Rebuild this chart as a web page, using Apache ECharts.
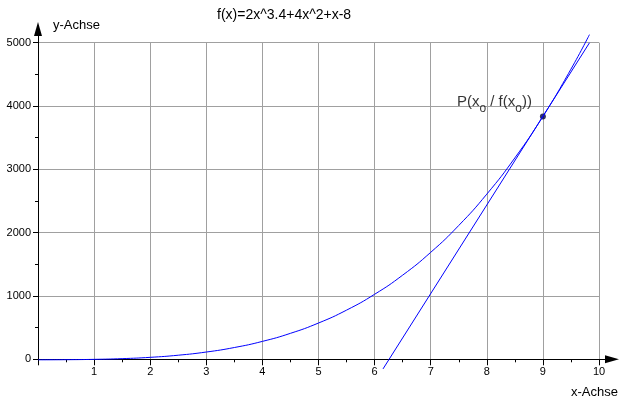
<!DOCTYPE html>
<html>
<head>
<meta charset="utf-8">
<script src="https://cdn.jsdelivr.net/npm/echarts@6/dist/echarts.min.js"></script>
<style>
  html, body { margin: 0; padding: 0; background: #fff; }
  #main { width: 623px; height: 398px; }
</style>
</head>
<body>
<div id="main"></div>
<script>
// tick labels
var xTicks = [0, 1, 2, 3, 4, 5, 6, 7, 8, 9, 10];
var yTicks = [0, 1000, 2000, 3000, 4000, 5000];

// f(x) = 2x^3.4 + 4x^2 + x - 8
var curveX = [0, 0.5, 1, 1.5, 2, 2.5, 3, 3.5, 4, 4.5, 5, 5.5, 6, 6.5, 7, 7.5, 8, 8.5, 9, 9.5, 9.83];
var curveY = [-8, -6.3, -1, 10.4, 31.1, 64.6, 114.8, 186, 282.9, 410.1, 572.9, 776.6, 1026.6, 1328.8, 1689.1, 2113.5, 2608.5, 3180.5, 3836.2, 4582.3, 5127.6];

// tangent line at x0 = 9
var tangentX = [6.15, 9.83];
var tangentY = [-152, 4998];

// point P(x0 / f(x0))
var pointX = [9];
var pointY = [3836.2];

window.onload = function () {
    var chart = echarts.init(document.getElementById("main"));

    var curve = curveX.map(function (x, i) { return [x, curveY[i]]; });
    var tangent = tangentX.map(function (x, i) { return [x, tangentY[i]]; });
    var point = pointX.map(function (x, i) { return [x, pointY[i]]; });

    var font = "'Liberation Sans', Arial, sans-serif";

    var option = {
        animation: false,
        backgroundColor: "#fff",
        textStyle: { fontFamily: font },
        title: [
            { text: "f(x)=2x^3.4+4x^2+x-8", left: 212, top: 3,
              textStyle: { fontSize: 14, fontWeight: "normal", color: "#000", fontFamily: font } },
            { text: "y-Achse", left: 48, top: 14,
              textStyle: { fontSize: 13, fontWeight: "normal", color: "#000", fontFamily: font } },
            { text: "x-Achse", left: 566, top: 381,
              textStyle: { fontSize: 13, fontWeight: "normal", color: "#000", fontFamily: font } }
        ],
        grid: [
            { left: 38, right: 24, top: 42.7, bottom: 38.7 },   // plot area
            { left: 38, right: 11, top: 29, bottom: 38.7 }       // axis lines with arrows
        ],
        xAxis: [
            {
                type: "value", gridIndex: 0,
                min: xTicks[0], max: xTicks[xTicks.length - 1], interval: 1,
                axisLine: { show: false },
                axisTick: { show: true, length: 6, lineStyle: { color: "#000" } },
                minorTick: { show: true, splitNumber: 2, length: 3, lineStyle: { color: "#000" } },
                axisLabel: {
                    color: "#000", fontSize: 11, margin: 7,
                    formatter: function (v) { return v === 0 ? "" : String(v); }
                },
                splitLine: { show: true, lineStyle: { color: "#a0a0a0", width: 1 } }
            },
            {
                type: "value", gridIndex: 1, min: 0, max: 1,
                axisLine: {
                    show: true, onZero: false,
                    lineStyle: { color: "#000", width: 1 },
                    symbol: ["none", "triangle"], symbolSize: [8, 14]
                },
                axisTick: { show: false }, axisLabel: { show: false }, splitLine: { show: false }
            }
        ],
        yAxis: [
            {
                type: "value", gridIndex: 0,
                min: yTicks[0], max: yTicks[yTicks.length - 1], interval: 1000,
                axisLine: { show: false },
                axisTick: { show: true, length: 5, lineStyle: { color: "#000" } },
                minorTick: { show: true, splitNumber: 2, length: 3, lineStyle: { color: "#000" } },
                axisLabel: {
                    color: "#000", fontSize: 11, margin: 7,
                    formatter: function (v) { return String(v); }
                },
                splitLine: { show: true, lineStyle: { color: "#a0a0a0", width: 1 } }
            },
            {
                type: "value", gridIndex: 1, min: 0, max: 1,
                axisLine: {
                    show: true, onZero: false,
                    lineStyle: { color: "#000", width: 1 },
                    symbol: ["none", "triangle"], symbolSize: [8, 14]
                },
                axisTick: { show: false }, axisLabel: { show: false }, splitLine: { show: false }
            }
        ],
        series: [
            {
                type: "line", name: "f(x)", data: curve,
                smooth: true, showSymbol: false, clip: false,
                lineStyle: { color: "#0000ff", width: 1 }
            },
            {
                type: "line", name: "Tangente", data: tangent,
                showSymbol: false, clip: false,
                lineStyle: { color: "#0000ff", width: 1 }
            },
            {
                type: "scatter", name: "P", data: point,
                symbolSize: 6, itemStyle: { color: "#000040" },
                label: {
                    show: true, position: "left", distance: 6, offset: [-2, -12],
                    formatter: "{a|P(x}{s|o}{a| / f(x}{s|o}{a|))}",
                    rich: {
                        a: { fontSize: 15, color: "#000", fontFamily: font, verticalAlign: "top", lineHeight: 20 },
                        s: { fontSize: 12, color: "#000", fontFamily: font, verticalAlign: "bottom", lineHeight: 20, padding: [6, 0, 0, 0] }
                    }
                }
            }
        ]
    };
    chart.setOption(option);
};
</script>
</body>
</html>
